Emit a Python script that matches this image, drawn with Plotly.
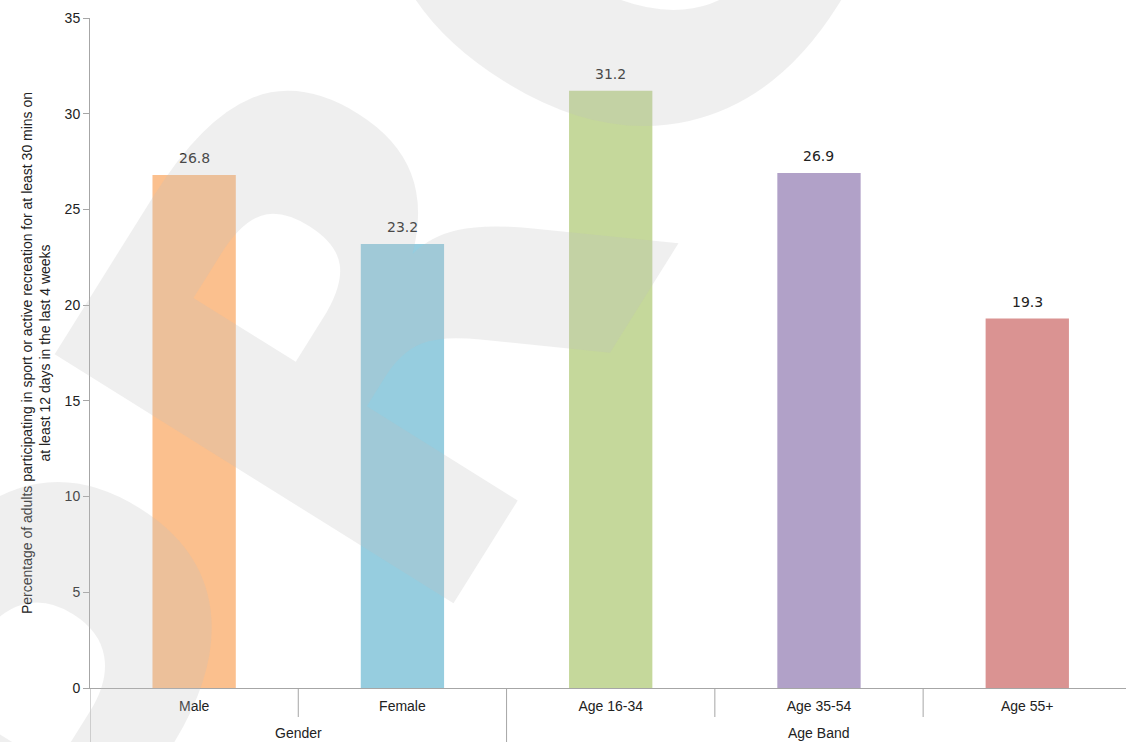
import plotly.graph_objects as go

groups = ["Gender", "Gender", "Age Band", "Age Band", "Age Band"]
categories = ["Male", "Female", "Age 16-34", "Age 35-54", "Age 55+"]
values = [26.8, 23.2, 31.2, 26.9, 19.3]
bar_colors = ["#fbc08e", "#96cddf", "#c5d89b", "#b1a1c8", "#da9392"]
y_ticks = [0, 5, 10, 15, 20, 25, 30, 35]
y_title = ("Percentage of adults participating in sport or active recreation for at least 30 mins on"
           "<br>at least 12 days in the last 4 weeks")
watermark = "PROVISIONAL"

axis_col = "#a6a6a6"
text_col = "#222222"
fig_w, fig_h = 1126, 742
m_l, m_t, m_b = 90, 18, 54
plot_h = fig_h - m_t - m_b

fig = go.Figure()
fig.add_trace(go.Bar(
    x=categories, y=values,
    marker=dict(color=bar_colors, line=dict(width=0)),
    width=0.4, hoverinfo="x+y",
))

# value labels above bars
for c, v in zip(categories, values):
    fig.add_annotation(
        x=c, y=v, xref="x", yref="y", text=f"{v:.1f}", showarrow=False,
        yanchor="bottom", yshift=7,
        font=dict(family="DejaVu Sans", size=14, color=text_col),
    )

# group labels and dividers (derived from the group list)
uniq = []
for g in groups:
    if g not in uniq:
        uniq.append(g)
for g in uniq:
    idx = [i for i, gg in enumerate(groups) if gg == g]
    fig.add_annotation(
        x=(idx[0] + idx[-1]) / 2, y=0, xref="x", yref="paper", text=g,
        showarrow=False, yanchor="middle", yshift=-45,
        font=dict(family="Liberation Sans, Arial", size=14, color=text_col),
    )

for i in range(len(categories) + 1):
    b = i - 0.5
    is_group_edge = (i == 0 or i == len(categories) or groups[i] != groups[i - 1])
    y1 = -60 / plot_h if is_group_edge else -29 / plot_h
    fig.add_shape(type="line", xref="x", yref="paper", x0=b, x1=b, y0=0, y1=y1,
                  line=dict(color=axis_col, width=1))

# watermark
fig.add_annotation(
    text=watermark, xref="paper", yref="paper", x=-0.414, y=-0.672,
    xanchor="left", yanchor="bottom", showarrow=False, textangle=-58,
    font=dict(family="DejaVu Sans", size=645, color="rgba(191,191,191,0.25)", weight="bold"),
)

fig.update_layout(
    width=fig_w, height=fig_h,
    margin=dict(l=m_l, r=0, t=m_t, b=m_b),
    paper_bgcolor="white", plot_bgcolor="white",
    showlegend=False,
    font=dict(family="Liberation Sans, Arial", size=14, color=text_col),
    xaxis=dict(
        type="category", range=[-0.5, 4.474], automargin=False,
        showline=True, linecolor=axis_col, linewidth=1,
        ticks="outside", ticklen=5, tickcolor="rgba(0,0,0,0)",
        showgrid=False, zeroline=False,
        tickfont=dict(size=14, color=text_col),
    ),
    yaxis=dict(
        range=[0, 35], tickvals=y_ticks, automargin=False,
        showline=True, linecolor=axis_col, linewidth=1,
        ticks="outside", ticklen=6, tickcolor=axis_col,
        showgrid=False, zeroline=False,
        tickfont=dict(size=14, color=text_col),
        title=dict(text=y_title, font=dict(size=14, color=text_col), standoff=10),
    ),
)

fig.write_html(
    "out.html",
    config={"displayModeBar": False},
    post_script="document.body.style.margin='0';document.body.style.overflow='hidden';",
)
